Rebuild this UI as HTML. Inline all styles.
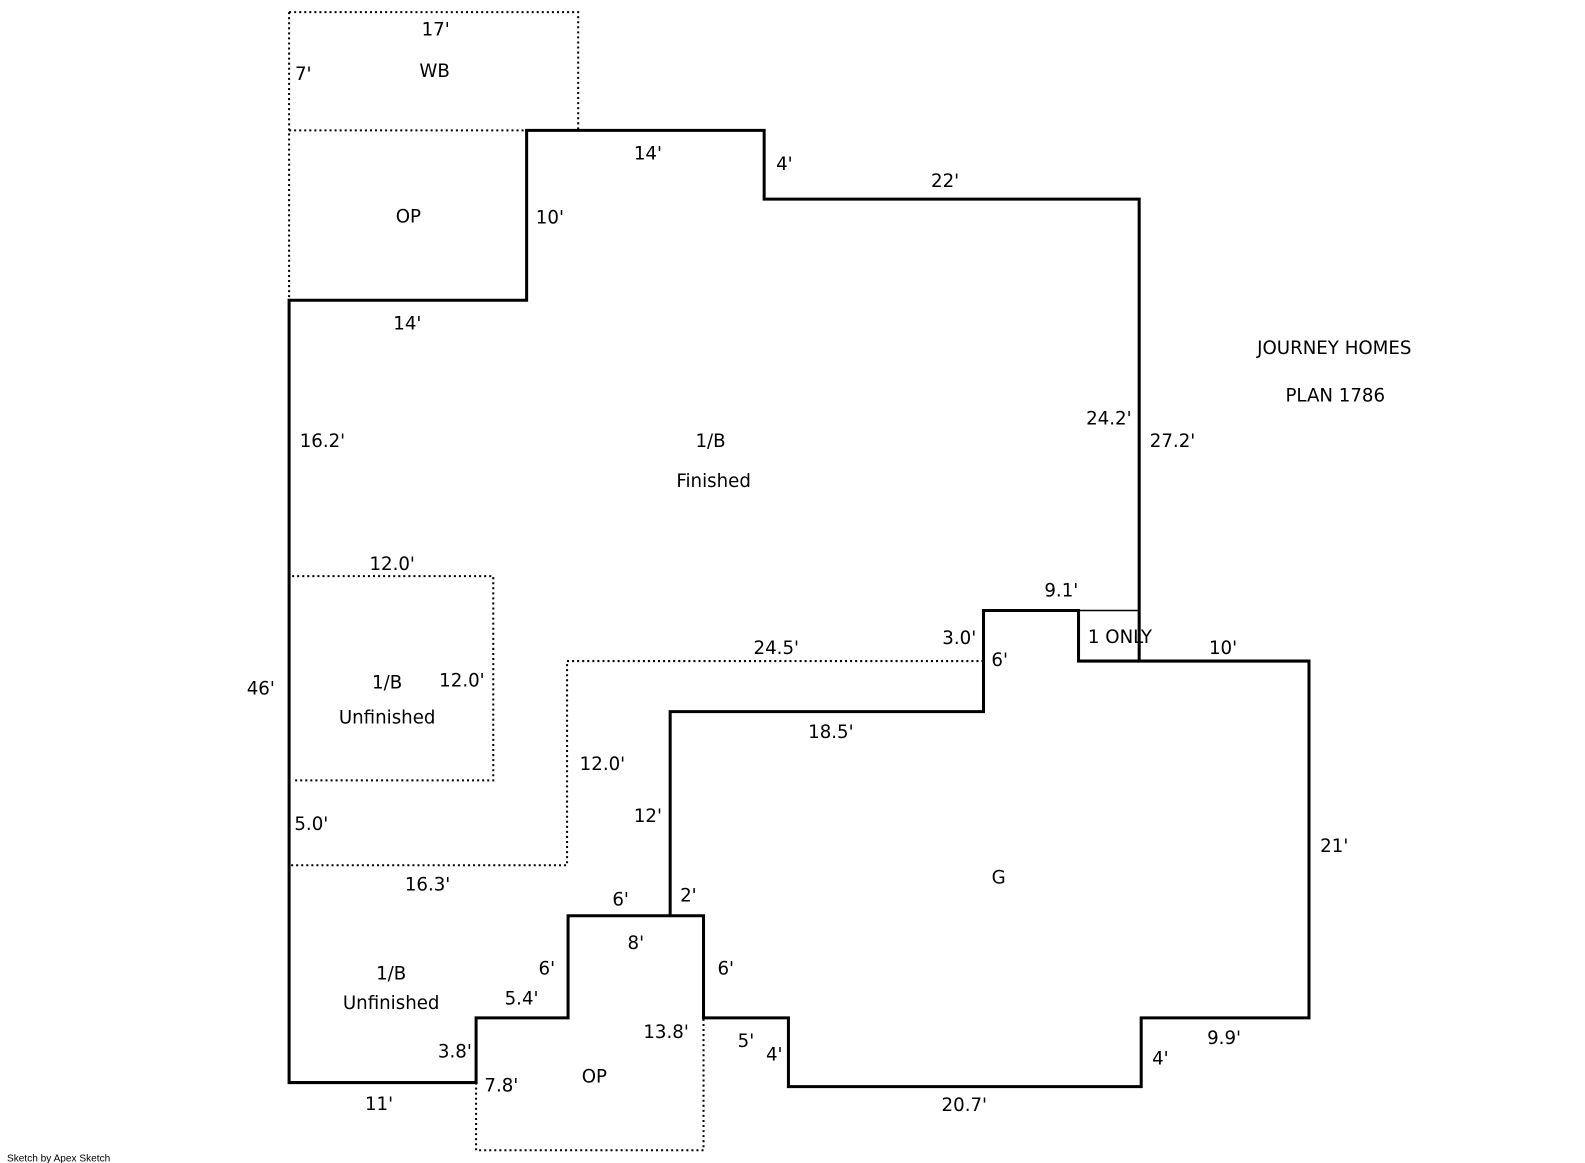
<!DOCTYPE html>
<html><head><meta charset="utf-8"><style>
html,body{margin:0;padding:0;background:#fff;}
svg{display:block;}
text{font-family:"DejaVu Sans","Liberation Sans",sans-serif;font-size:18px;fill:#000;text-anchor:middle;}
</style></head><body>
<svg width="1585" height="1163" viewBox="0 0 1585 1163" xmlns="http://www.w3.org/2000/svg">
<g transform="scale(1.0108)">
<g fill="none" stroke="#000" stroke-width="2" stroke-dasharray="2,3">
<path d="M286,12 H572 V129"/>
<path d="M286,12 V297"/>
<path d="M286,129 H521"/>
<path d="M289,570 H488 V772 H289"/>
<path d="M973,654 H561 V856 H286"/>
<path d="M471,1071 V1138 H696 V1007"/>
</g>
<g fill="none" stroke="#000" stroke-width="3" stroke-linejoin="miter">
<path d="M286,297 H521 V129 H756 V197 H1127 V654 H1295 V1007 H1129 V1075 H780 V1007 H696 V906 H562 V1007 H471 V1071 H286 Z"/>
<path d="M1127,654 H1067 V604 H973 V704 H663 V906"/>
</g>
<path d="M1067,604 H1127" stroke="#000" stroke-width="1.5"/>
<g>
<text x="431" y="35">17'</text>
<text x="300" y="79">7'</text>
<text x="430" y="76">WB</text>
<text x="404" y="220">OP</text>
<text x="641" y="158">14'</text>
<text x="776" y="168">4'</text>
<text x="544" y="221">10'</text>
<text x="935" y="185">22'</text>
<text x="403" y="326">14'</text>
<text x="1320" y="350">JOURNEY HOMES</text>
<text x="1321" y="397">PLAN 1786</text>
<text x="319" y="442">16.2'</text>
<text x="703" y="442">1/B</text>
<text x="706" y="482">Finished</text>
<text x="1097" y="420">24.2'</text>
<text x="1160" y="442">27.2'</text>
<text x="388" y="564">12.0'</text>
<text x="1050" y="590">9.1'</text>
<text x="949" y="637">3.0'</text>
<text x="768" y="647">24.5'</text>
<text x="1108" y="636">1 ONLY</text>
<text x="1210" y="647">10'</text>
<text x="989" y="659">6'</text>
<text x="258" y="687">46'</text>
<text x="383" y="681">1/B</text>
<text x="457" y="679">12.0'</text>
<text x="383" y="716">Unfinished</text>
<text x="822" y="730">18.5'</text>
<text x="596" y="762">12.0'</text>
<text x="641" y="813">12'</text>
<text x="308" y="821">5.0'</text>
<text x="1320" y="843">21'</text>
<text x="988" y="874">G</text>
<text x="423" y="881">16.3'</text>
<text x="614" y="896">6'</text>
<text x="681" y="892">2'</text>
<text x="629" y="939">8'</text>
<text x="387" y="969">1/B</text>
<text x="541" y="964">6'</text>
<text x="718" y="964">6'</text>
<text x="387" y="998">Unfinished</text>
<text x="516" y="994">5.4'</text>
<text x="659" y="1027">13.8'</text>
<text x="1211" y="1033">9.9'</text>
<text x="738" y="1036">5'</text>
<text x="450" y="1046">3.8'</text>
<text x="766" y="1049">4'</text>
<text x="1148" y="1053">4'</text>
<text x="588" y="1071">OP</text>
<text x="496" y="1080">7.8'</text>
<text x="375" y="1098">11'</text>
<text x="954" y="1099">20.7'</text>
<text x="58" y="1149" style="font-size:10px;font-family:'Liberation Sans',sans-serif">Sketch by Apex Sketch</text>
</g>
</g>
</svg>
</body></html>
